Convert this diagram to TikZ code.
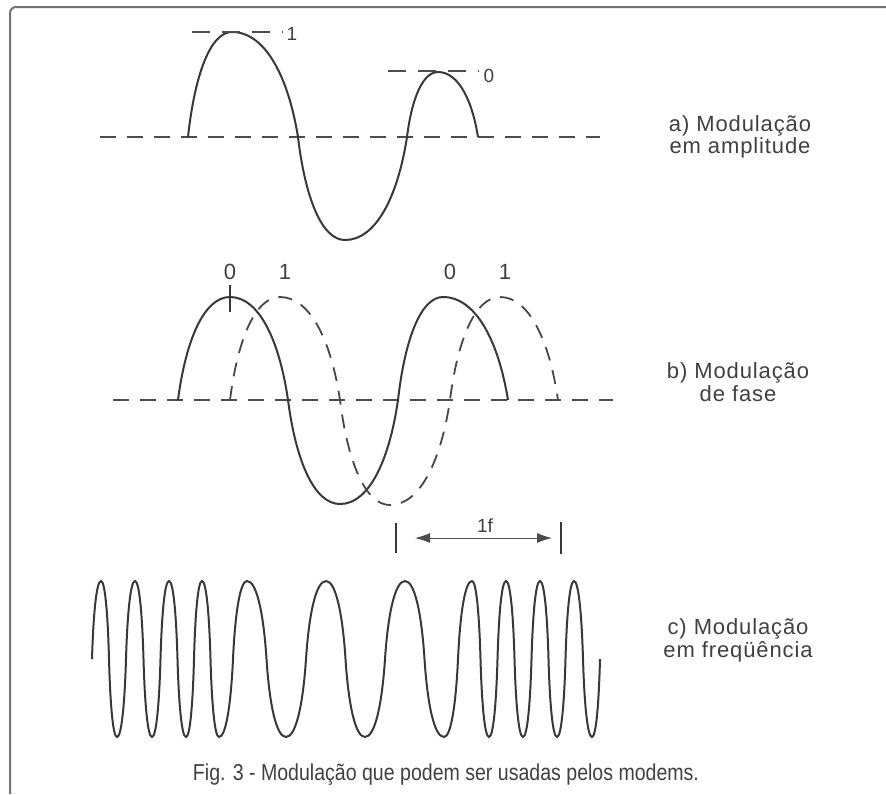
\documentclass[tikz,border=0pt]{standalone}
\usepackage{fontspec}
\setmainfont{Liberation Sans}
\newfontfamily\labelfont[LetterSpace=4]{Liberation Sans}
\newfontfamily\capfont[FakeStretch=0.85]{Liberation Sans}
\usetikzlibrary{arrows.meta}

% quarter waves: zero -> extreme and extreme -> zero
\def\qa{0.15}\def\qb{0.58}\def\qc{0.5}
\newcommand{\toext}[4]{.. controls ({#1+\qa*(#3-#1)},{#2+\qb*(#4-#2)}) and ({#3-\qc*(#3-#1)},{#4}) .. ({#3},{#4})}
\newcommand{\tozero}[4]{.. controls ({#1+\qc*(#3-#1)},{#2}) and ({#3-\qa*(#3-#1)},{#4-\qb*(#4-#2)}) .. ({#3},{#4})}

\begin{document}
\begin{tikzpicture}[x=0.5pt,y=-0.5pt]
\path[use as bounding box] (0,0) rectangle (886,794);
\tikzstyle{wave}=[draw=black!78, line width=1pt]
\tikzstyle{dwave}=[draw=black!72, line width=0.9pt, dash pattern=on 7pt off 5pt]
\tikzstyle{axis}=[draw=black!70, line width=0.9pt, dash pattern=on 8pt off 5.5pt]
\tikzstyle{level}=[draw=black!70, line width=0.8pt, dash pattern=on 9pt off 6pt]
\tikzstyle{side}=[align=center, text=black!75, font=\labelfont\fontsize{11}{10}\selectfont]
\tikzstyle{bit}=[text=black!75, inner sep=0pt, font=\fontsize{9.5}{10}\selectfont]
\tikzstyle{bigbit}=[text=black!75, inner sep=0pt, font=\fontsize{11}{12}\selectfont]

% frame
\draw[black!55, line width=1pt, rounded corners=3pt] (10,794) -- (10,7) -- (886,7);

% a) amplitude
\draw[axis] (100,137) -- (600,137);
\draw[wave] (188,137) \toext{188}{137}{232}{32} \tozero{232}{32}{298}{137}
  \toext{298}{137}{345}{240} \tozero{345}{240}{407}{137}
  \toext{407}{137}{438}{72} \tozero{438}{72}{478}{137};
\draw[level] (192,32) -- (283,32);
\draw[level] (388,71) -- (479,71);
\node[bit] (one) at (292,34) {1};
\node[bit] (zero) at (489,76) {0};
\node[side] (texta) at (740,137) {a) Modulação\\em amplitude};

% b) fase
\draw[axis] (113,400) -- (613,400);
\draw[wave] (178,400) \toext{178}{400}{230}{297} \tozero{230}{297}{288}{400}
  \toext{288}{400}{340}{504} \tozero{340}{504}{398}{400}
  \toext{398}{400}{443}{297} \tozero{443}{297}{508}{400};
\draw[dwave] (230,400) \toext{230}{400}{280}{297} \tozero{280}{297}{340}{400}
  \toext{340}{400}{390}{505} \tozero{390}{505}{450}{400}
  \toext{450}{400}{500}{297} \tozero{500}{297}{558}{400};
\draw[wave] (230,285) -- (230,312);
\node[bigbit] (b0a) at (230,272) {0};
\node[bigbit] (b1a) at (285,272) {1};
\node[bigbit] (b0b) at (450,272) {0};
\node[bigbit] (b1b) at (505,272) {1};
\node[side] (textb) at (738,382) {b) Modulação\\de fase};

% 1f
\coordinate (fl) at (396,538);
\coordinate (fr) at (561,538);
\draw[wave, line width=0.8pt] ([yshift=-7.5pt]fl) -- ([yshift=7.5pt]fl);
\draw[wave, line width=0.8pt] ([yshift=-8pt]fr) -- ([yshift=8pt]fr);
\draw[{Latex[length=7.5pt,width=5pt]}-{Latex[length=7.5pt,width=5pt]}, black!70, line width=0.5pt, shorten <=9.5pt, shorten >=4.5pt] (fl) -- (fr);
\node[bit] (period) at (485,526) {1f};

% c) frequencia
\draw[wave] (92,659) \toext{92}{659}{101}{581}
  \foreach \xa/\ya/\xb/\yb in {101/581/117/737, 117/737/135/581, 135/581/152/737, 152/737/169/581, 169/581/186/737, 186/737/202/581, 202/581/219/737, 219/737/247/581, 247/581/286/737, 286/737/326/581, 326/581/365/737, 365/737/405/581, 405/581/444/737, 444/737/472/581, 472/581/489/737, 489/737/506/581, 506/581/523/737, 523/737/540/581, 540/581/557/737, 557/737/574/581, 574/581/592/737}
  { \tozero{\xa}{\ya}{(\xa+\xb)/2}{659} \toext{(\xa+\xb)/2}{659}{\xb}{\yb} }
  \tozero{592}{737}{600}{659};
\node[side] (textc) at (738,640) {c) Modulação\\em freqüência};

% caption
\node[text=black!75, font=\capfont\fontsize{11.5}{12}\selectfont] (caption) at (446,775) {Fig. 3 - Modulação que podem ser usadas pelos modems.};
\end{tikzpicture}
\end{document}
